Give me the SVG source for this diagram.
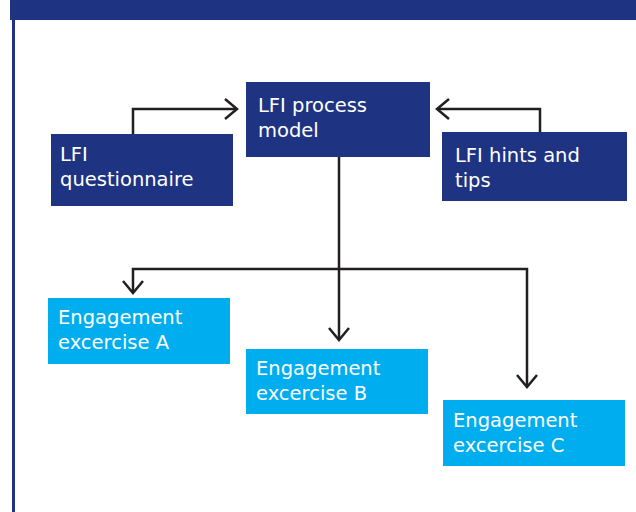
<svg xmlns="http://www.w3.org/2000/svg" width="636" height="512" viewBox="0 0 636 512">
<defs>
<style>
.dark{fill:#1f3383}
.light{fill:#00aeef}
.t{font-family:"DejaVu Sans","Noto Sans",sans-serif;font-size:19.5px;fill:#ffffff}
.c{fill:none;stroke:#231f20;stroke-width:2.5}
</style>
<marker id="ah" viewBox="0 0 16 22" refX="14" refY="11" markerWidth="16" markerHeight="22" markerUnits="userSpaceOnUse" orient="auto">
<path d="M2,1 L14,11 L2,21" fill="none" stroke="#231f20" stroke-width="2.5"/>
</marker>
</defs>
<rect x="0" y="0" width="636" height="512" fill="#ffffff"/>
<rect class="dark" x="10" y="0" width="626" height="20"/>
<rect class="dark" x="12" y="19" width="3" height="493"/>
<g id="connectors">
<path class="c" d="M133,134 V109 H237" marker-end="url(#ah)"/>
<path class="c" d="M540,132 V109 H437" marker-end="url(#ah)"/>
<path class="c" d="M339,157 V340" marker-end="url(#ah)"/>
<path class="c" d="M339,269 H133 V293" marker-end="url(#ah)"/>
<path class="c" d="M339,269 H527 V387" marker-end="url(#ah)"/>
</g>
<g id="process">
<rect class="dark" x="246" y="82" width="184" height="75"/>
<text class="t" x="258" y="112">LFI process</text>
<text class="t" x="258" y="137">model</text>
</g>
<g id="questionnaire">
<rect class="dark" x="51" y="134" width="182" height="72"/>
<text class="t" x="60" y="161">LFI</text>
<text class="t" x="60" y="186">questionnaire</text>
</g>
<g id="hints">
<rect class="dark" x="442" y="132" width="185" height="69"/>
<text class="t" x="455" y="162">LFI hints and</text>
<text class="t" x="455" y="187">tips</text>
</g>
<g id="exA">
<rect class="light" x="48" y="298" width="182" height="66"/>
<text class="t" x="58" y="324">Engagement</text>
<text class="t" x="58" y="349">excercise A</text>
</g>
<g id="exB">
<rect class="light" x="246" y="349" width="182" height="65"/>
<text class="t" x="256" y="375">Engagement</text>
<text class="t" x="256" y="400">excercise B</text>
</g>
<g id="exC">
<rect class="light" x="443" y="400" width="182" height="66"/>
<text class="t" x="453" y="427">Engagement</text>
<text class="t" x="453" y="452">excercise C</text>
</g>
</svg>
